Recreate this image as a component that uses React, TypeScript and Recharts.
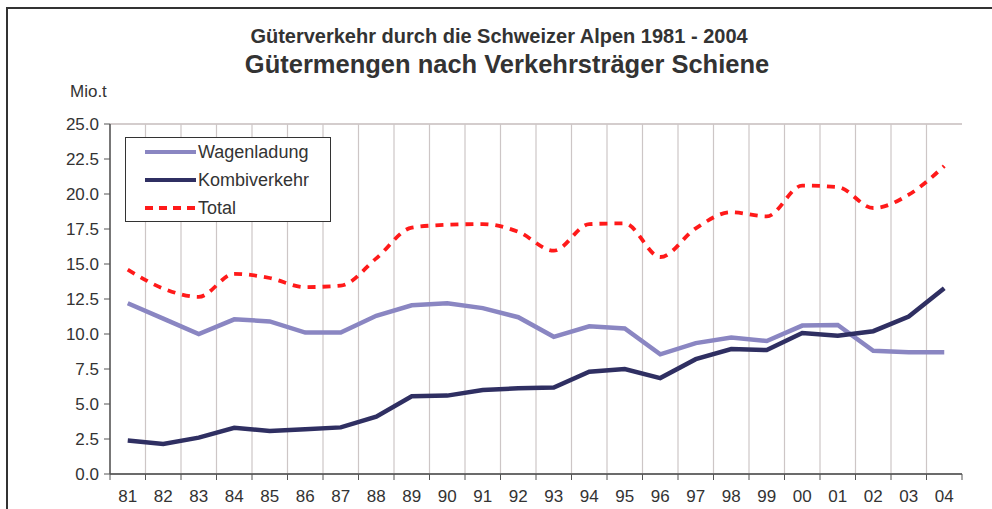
import React from "react";
import { LineChart, Line, XAxis, YAxis, CartesianGrid } from "recharts";

// years shown on the x axis (two digits, as in the source chart)
const years = ["81", "82", "83", "84", "85", "86", "87", "88", "89", "90", "91", "92",
  "93", "94", "95", "96", "97", "98", "99", "00", "01", "02", "03", "04"];

// Mio. t per year
const wagenladung = [12.2, 11.1, 10.0, 11.05, 10.9, 10.1, 10.1, 11.3, 12.05, 12.2, 11.85, 11.2,
  9.8, 10.55, 10.4, 8.55, 9.35, 9.75, 9.5, 10.6, 10.65, 8.8, 8.7, 8.7];
const kombiverkehr = [2.4, 2.15, 2.6, 3.3, 3.07, 3.2, 3.33, 4.1, 5.55, 5.6, 6.0, 6.12,
  6.17, 7.3, 7.5, 6.85, 8.2, 8.93, 8.85, 10.07, 9.88, 10.2, 11.25, 13.27];
const total = [14.6, 13.25, 12.65, 14.3, 14.0, 13.35, 13.45, 15.4, 17.6, 17.8, 17.85, 17.3,
  15.95, 17.85, 17.9, 15.5, 17.55, 18.7, 18.4, 20.6, 20.5, 19.0, 19.95, 22.0];

const yTicks = [0, 2.5, 5, 7.5, 10, 12.5, 15, 17.5, 20, 22.5, 25];

const data = years.map((y, i) => ({
  year: y,
  wagenladung: wagenladung[i],
  kombiverkehr: kombiverkehr[i],
  total: total[i],
}));

const W = 992;
const H = 509;
const PLOT_LEFT = 110;
const PLOT_RIGHT = 962;
const PLOT_TOP = 124;
const PLOT_BOTTOM = 474;
const BAND = (PLOT_RIGHT - PLOT_LEFT) / years.length;
const FONT = "'Liberation Sans', Arial, sans-serif";

function XTick(props: any) {
  const { x, payload, index } = props;
  const half = BAND / 2;
  return (
    <g>
      <line x1={x - half} x2={x - half} y1={PLOT_BOTTOM} y2={PLOT_BOTTOM + 6} stroke="#555" strokeWidth={1} />
      {index === years.length - 1 && (
        <line x1={x + half} x2={x + half} y1={PLOT_BOTTOM} y2={PLOT_BOTTOM + 6} stroke="#555" strokeWidth={1} />
      )}
      <text x={x} y={PLOT_BOTTOM + 28} textAnchor="middle" fontSize={17} fill="#333" fontFamily={FONT}>
        {payload.value}
      </text>
    </g>
  );
}

function LegendBox() {
  const rows = [
    { label: "Wagenladung", color: "#8a86c2", dash: undefined },
    { label: "Kombiverkehr", color: "#2f2f62", dash: undefined },
    { label: "Total", color: "#ff1a1a", dash: "8 6" },
  ];
  return (
    <div style={{ position: "absolute", left: 125, top: 137, width: 206, height: 85, border: "1.5px solid #333", background: "#fff", boxSizing: "border-box", paddingTop: 0 }}>
      {rows.map((r) => (
        <div key={r.label} style={{ display: "flex", alignItems: "center", height: 28 }}>
          <svg width={72} height={10}>
            <line x1={19} x2={70} y1={5} y2={5} stroke={r.color} strokeWidth={4} strokeDasharray={r.dash} />
          </svg>
          <span style={{ fontSize: 18, color: "#333", fontFamily: FONT }}>{r.label}</span>
        </div>
      ))}
    </div>
  );
}

export default function App() {
  return (
    <div style={{ position: "absolute", left: 0, top: 0, width: W, height: H, overflow: "hidden", background: "#fff", fontFamily: FONT }}>
      <div style={{ position: "absolute", left: 6, top: 7, width: 1100, height: 600, borderTop: "2px solid #333", borderLeft: "2px solid #333" }} />
      <div style={{ position: "absolute", left: 0, width: 998, top: 25, textAlign: "center", fontSize: 20, fontWeight: "bold", color: "#333" }}>
        Güterverkehr durch die Schweizer Alpen 1981 - 2004
      </div>
      <div style={{ position: "absolute", left: 0, width: 1014, top: 50, textAlign: "center", fontSize: 25.5, fontWeight: "bold", color: "#333" }}>
        Gütermengen nach Verkehrsträger Schiene
      </div>
      <div style={{ position: "absolute", left: 70, top: 82, fontSize: 17, color: "#333" }}>Mio.t</div>
      <div style={{ position: "absolute", left: 0, top: 0 }}>
        <LineChart width={W} height={H} data={data} margin={{ top: PLOT_TOP, right: W - PLOT_RIGHT, bottom: 0, left: 0 }}>
          <CartesianGrid horizontal={true} vertical={false} stroke="#a99c9c" strokeWidth={1.2} />
          <CartesianGrid
            horizontal={false}
            vertical={true}
            stroke="#cdc6c6"
            strokeWidth={1.2}
            verticalCoordinatesGenerator={({ offset }: any) =>
              Array.from({ length: years.length }, (_, i) => offset.left + i * (offset.width / years.length))
            }
          />
          <XAxis
            dataKey="year"
            scale="band"
            height={H - PLOT_BOTTOM}
            interval={0}
            tickLine={false}
            axisLine={{ stroke: "#6b6b6b", strokeWidth: 2 }}
            tick={<XTick />}
          />
          <YAxis
            yAxisId="l"
            width={PLOT_LEFT}
            domain={[0, 25]}
            ticks={yTicks}
            interval={0}
            tickFormatter={(v: number) => v.toFixed(1)}
            tickSize={6}
            tickMargin={5}
            tick={{ fontSize: 17, fill: "#333", fontFamily: FONT }}
            tickLine={{ stroke: "#555" }}
            axisLine={{ stroke: "#555", strokeWidth: 1.5 }}
          />
          <YAxis
            yAxisId="r"
            orientation="right"
            width={0}
            domain={[0, 25]}
            tick={false}
            tickLine={false}
            axisLine={{ stroke: "#a89898", strokeWidth: 2 }}
          />
          <Line yAxisId="l" type="linear" dataKey="wagenladung" name="Wagenladung" stroke="#8a86c2" strokeWidth={4.5} dot={false} isAnimationActive={false} />
          <Line yAxisId="l" type="linear" dataKey="kombiverkehr" name="Kombiverkehr" stroke="#2f2f62" strokeWidth={4.5} dot={false} isAnimationActive={false} />
          <Line yAxisId="l" type="monotone" dataKey="total" name="Total" stroke="#ff1a1a" strokeWidth={3.8} strokeDasharray="8 7" dot={false} isAnimationActive={false} />
        </LineChart>
      </div>
      <LegendBox />
    </div>
  );
}
